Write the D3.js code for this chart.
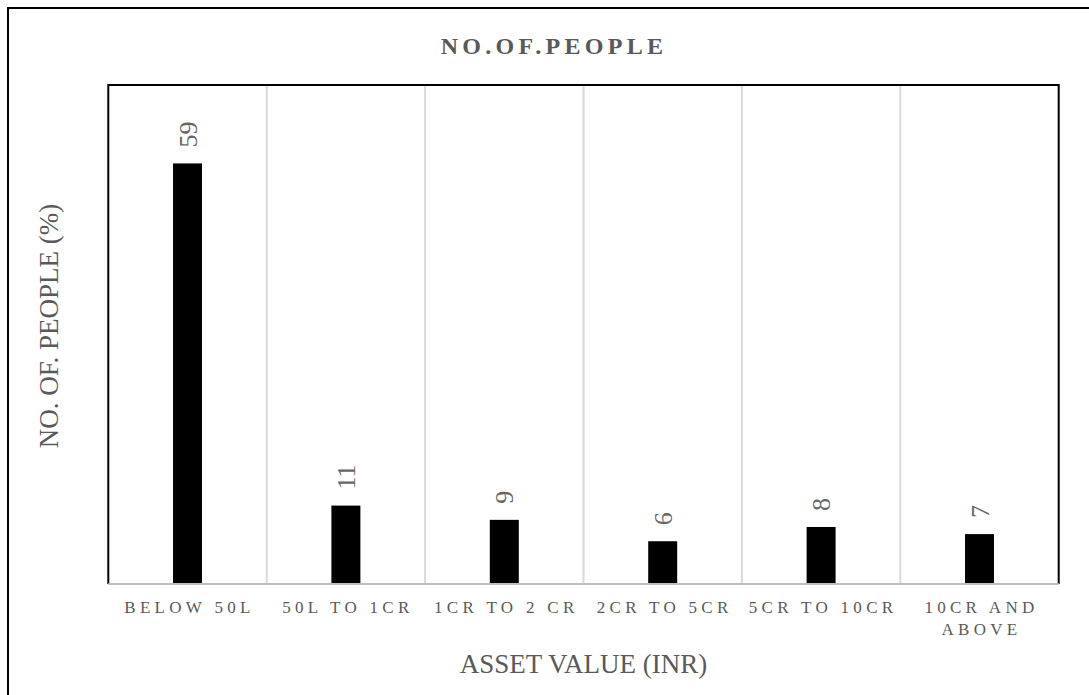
<!DOCTYPE html>
<html>
<head>
<meta charset="utf-8">
<script src="https://cdn.jsdelivr.net/npm/d3@7"></script>
<style>
  html, body { margin: 0; padding: 0; background: #fff; }
  svg { display: block; font-family: "Liberation Serif", "Times New Roman", serif; }
</style>
</head>
<body>
<svg id="chart" width="1089" height="695"></svg>
<script>
// Share of respondents by asset value bracket
const categories = ["BELOW 50L", "50L TO 1CR", "1CR TO 2 CR", "2CR TO 5CR", "5CR TO 10CR", "10CR AND ABOVE"];
const categoryLines = [["BELOW 50L"], ["50L TO 1CR"], ["1CR TO 2 CR"], ["2CR TO 5CR"], ["5CR TO 10CR"], ["10CR AND", "ABOVE"]];
const values = [59, 11, 9, 6, 8, 7];
const chartTitle = "NO.OF.PEOPLE";
const xTitle = "ASSET VALUE (INR)";
const yTitle = "NO. OF. PEOPLE (%)";

const svg = d3.select("#chart");
const plot = { left: 108.3, right: 1058.7, top: 85, bottom: 584 };
const textGray = "#595959";

// Outer chart frame (runs past the right and bottom edges)
svg.append("rect")
  .attr("x", 8).attr("y", 8)
  .attr("width", 1088).attr("height", 700)
  .attr("fill", "#fff").attr("stroke", "#000").attr("stroke-width", 2);

const x = d3.scaleBand().domain(categories).range([plot.left, plot.right]).padding(0);
const y = d3.scaleLinear().domain([0, 70]).range([plot.bottom, plot.top]);

// Vertical separators between categories
svg.append("g").selectAll("line")
  .data(categories.slice(1))
  .join("line")
  .attr("x1", d => x(d)).attr("x2", d => x(d))
  .attr("y1", plot.top).attr("y2", plot.bottom)
  .attr("stroke", "#d9d9d9").attr("stroke-width", 2);

// Bars
const barW = x.bandwidth() * 0.183;
svg.append("g").selectAll("rect")
  .data(values)
  .join("rect")
  .attr("x", (d, i) => x(categories[i]) + x.bandwidth() / 2 - barW / 2)
  .attr("y", d => y(d))
  .attr("width", barW)
  .attr("height", d => y(0) - y(d))
  .attr("fill", "#000");

// Value labels, rotated
svg.append("g").selectAll("text")
  .data(values)
  .join("text")
  .attr("transform", (d, i) => `translate(${x(categories[i]) + x.bandwidth() / 2},${y(d) - 16}) rotate(-90)`)
  .attr("dy", "0.35em")
  .attr("text-anchor", "start")
  .attr("font-size", 26)
  .attr("fill", "#666")
  .text(d => d);

// Plot frame: dark on left/top/right, grey axis line at the bottom
svg.append("path")
  .attr("d", `M${plot.left},${plot.bottom} V${plot.top} H${plot.right} V${plot.bottom}`)
  .attr("fill", "none").attr("stroke", "#000").attr("stroke-width", 2);
svg.append("line")
  .attr("x1", plot.left).attr("x2", plot.right)
  .attr("y1", plot.bottom).attr("y2", plot.bottom)
  .attr("stroke", "#bfbfbf").attr("stroke-width", 2);

// Category labels
const xl = svg.append("g").selectAll("text")
  .data(categoryLines)
  .join("text")
  .attr("text-anchor", "middle")
  .attr("font-size", 17)
  .attr("letter-spacing", 4.3)
  .attr("fill", textGray);
xl.each(function(lines, i) {
  const cx = x(categories[i]) + x.bandwidth() / 2;
  d3.select(this).selectAll("tspan")
    .data(lines)
    .join("tspan")
    .attr("x", cx + 2)
    .attr("y", (d, j) => 613 + j * 22)
    .text(d => d);
});

// Chart title
svg.append("text")
  .attr("x", 554).attr("y", 54)
  .attr("text-anchor", "middle")
  .attr("font-size", 24).attr("font-weight", "bold")
  .attr("letter-spacing", 4.3)
  .attr("fill", textGray)
  .text(chartTitle);

// Axis titles
svg.append("text")
  .attr("x", (plot.left + plot.right) / 2).attr("y", 673)
  .attr("text-anchor", "middle")
  .attr("font-size", 27)
  .attr("fill", textGray)
  .text(xTitle);

svg.append("text")
  .attr("transform", `translate(49,326) rotate(-90)`)
  .attr("dy", "0.35em")
  .attr("text-anchor", "middle")
  .attr("font-size", 27)
  .attr("fill", textGray)
  .text(yTitle);
</script>
</body>
</html>
